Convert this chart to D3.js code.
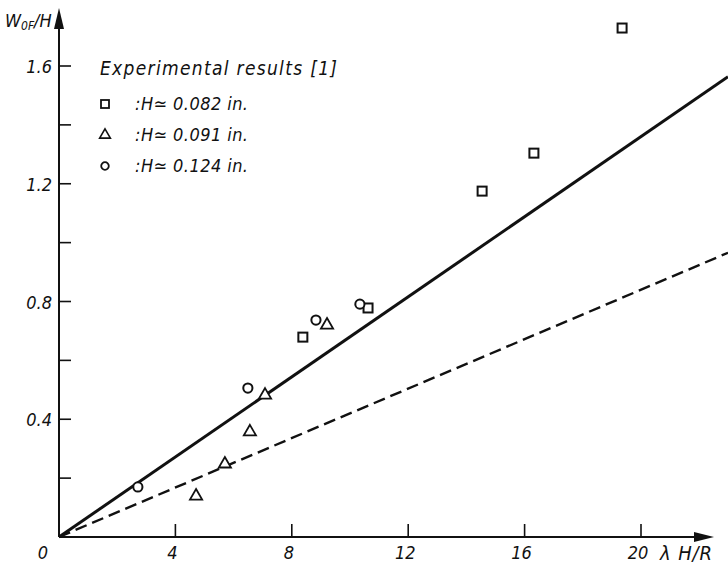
<!DOCTYPE html>
<html>
<head>
<meta charset="utf-8">
<script src="https://cdn.jsdelivr.net/npm/d3@7"></script>
<style>
  body { margin: 0; background: #fff; }
  svg text { font-family: "DejaVu Sans Condensed", "Liberation Sans Narrow", Roboto, sans-serif; font-style: italic; fill: #111; }
</style>
</head>
<body>
<svg width="728" height="566"></svg>
<script>
// experimental points, one array per specimen height
var squares_x = [8.38, 10.62, 14.54, 16.32, 19.35];
var squares_y = [0.679, 0.778, 1.175, 1.304, 1.729];

var triangles_x = [4.71, 5.70, 6.56, 7.08, 9.21];
var triangles_y = [0.139, 0.248, 0.357, 0.482, 0.720];

var circles_x = [2.71, 6.49, 8.83, 10.34];
var circles_y = [0.170, 0.506, 0.737, 0.791];

// theory lines through the origin (slopes)
var solid_slope = 0.068;
var dashed_slope = 0.042;

var x_ticks = [0, 4, 8, 12, 16, 20];
var y_ticks = [0.4, 0.8, 1.2, 1.6];
var y_minor = [0.2, 0.6, 1.0, 1.4];

var legend_title = "Experimental results [1]";
var legend_labels = [":H\u2243 0.082 in.", ":H\u2243 0.091 in.", ":H\u2243 0.124 in."];

var svg = d3.select("svg"),
    width = +svg.attr("width"),
    height = +svg.attr("height");

var x = d3.scaleLinear().domain([0, 20]).range([59, 641]);
var y = d3.scaleLinear().domain([0, 1.6]).range([537, 66]);

var ink = "#111";

// axes
var axes = svg.append("g");
axes.append("line")
    .attr("x1", x(0)).attr("y1", y(0))
    .attr("x2", 700).attr("y2", y(0))
    .attr("stroke", ink).attr("stroke-width", 2);
axes.append("path")
    .attr("d", "M694," + (y(0) - 5) + "L714," + y(0) + "L694," + (y(0) + 5) + "Z")
    .attr("fill", ink);
axes.append("line")
    .attr("x1", x(0)).attr("y1", y(0))
    .attr("x2", x(0)).attr("y2", 24)
    .attr("stroke", ink).attr("stroke-width", 2);
axes.append("path")
    .attr("d", "M" + (x(0) - 5) + ",29L" + x(0) + ",8L" + (x(0) + 5) + ",29Z")
    .attr("fill", ink);

// x ticks point up from the axis
axes.selectAll(".xt")
    .data(x_ticks.filter(function(d) { return d > 0; }))
    .enter().append("line")
    .attr("x1", function(d) { return x(d); })
    .attr("x2", function(d) { return x(d); })
    .attr("y1", y(0)).attr("y2", y(0) - 13)
    .attr("stroke", ink).attr("stroke-width", 1.6);
axes.selectAll(".xl")
    .data(x_ticks)
    .enter().append("text")
    .attr("x", function(d) { return d === 0 ? x(d) - 16 : x(d) - 3; })
    .attr("y", 559)
    .attr("text-anchor", "middle")
    .attr("font-size", 18)
    .text(function(d) { return d; });
axes.append("text")
    .attr("x", 660).attr("y", 560)
    .attr("font-size", 20)
    .attr("textLength", 52).attr("lengthAdjust", "spacing")
    .text("\u03bb H/R");

// y ticks point right from the axis
axes.selectAll(".yt")
    .data(y_ticks.concat(y_minor))
    .enter().append("line")
    .attr("x1", x(0)).attr("x2", x(0) + 12)
    .attr("y1", function(d) { return y(d); })
    .attr("y2", function(d) { return y(d); })
    .attr("stroke", ink).attr("stroke-width", 1.6);
axes.selectAll(".yl")
    .data(y_ticks)
    .enter().append("text")
    .attr("x", 52)
    .attr("y", function(d) { return y(d) + 7; })
    .attr("text-anchor", "end")
    .attr("font-size", 18)
    .text(function(d) { return d; });

var ylab = axes.append("text").attr("x", 5).attr("y", 27).attr("font-size", 18);
ylab.append("tspan").text("W");
ylab.append("tspan").attr("font-size", 12).attr("dy", 3).text("0F");
ylab.append("tspan").attr("dy", -3).text("/H");

// theory lines, run to the right edge of the picture
var x_end = x.invert(width);
svg.append("line")
    .attr("x1", x(0)).attr("y1", y(0))
    .attr("x2", x(x_end)).attr("y2", y(solid_slope * x_end))
    .attr("stroke", ink).attr("stroke-width", 3);
svg.append("line")
    .attr("x1", x(0)).attr("y1", y(0))
    .attr("x2", x(x_end)).attr("y2", y(dashed_slope * x_end))
    .attr("stroke", ink).attr("stroke-width", 2.4)
    .attr("stroke-dasharray", "12,6");

// markers
var pts = svg.append("g").attr("fill", "#fff").attr("stroke", ink).attr("stroke-width", 2);

pts.selectAll(".sq")
    .data(d3.range(squares_x.length))
    .enter().append("rect")
    .attr("x", function(i) { return x(squares_x[i]) - 4.5; })
    .attr("y", function(i) { return y(squares_y[i]) - 4.5; })
    .attr("width", 9).attr("height", 9);

var tri = d3.symbol().type(d3.symbolTriangle).size(64);
pts.selectAll(".tr")
    .data(d3.range(triangles_x.length))
    .enter().append("path")
    .attr("d", tri)
    .attr("stroke-width", 1.8)
    .attr("transform", function(i) { return "translate(" + x(triangles_x[i]) + "," + y(triangles_y[i]) + ")"; });

pts.selectAll(".ci")
    .data(d3.range(circles_x.length))
    .enter().append("circle")
    .attr("cx", function(i) { return x(circles_x[i]); })
    .attr("cy", function(i) { return y(circles_y[i]); })
    .attr("r", 4.6);

// legend
var legend = svg.append("g");
legend.append("text")
    .attr("x", 100).attr("y", 75)
    .attr("font-size", 19)
    .attr("textLength", 237).attr("lengthAdjust", "spacing")
    .text(legend_title);

var rows = legend.selectAll(".row")
    .data(legend_labels)
    .enter().append("g")
    .attr("transform", function(d, i) { return "translate(105," + (104 + i * 31) + ")"; });
rows.append("text")
    .attr("x", 30).attr("y", 6)
    .attr("font-size", 18)
    .attr("textLength", 113).attr("lengthAdjust", "spacing")
    .text(function(d) { return d; });
rows.filter(function(d, i) { return i === 0; }).append("rect")
    .attr("x", -4).attr("y", -4).attr("width", 8).attr("height", 8)
    .attr("fill", "#fff").attr("stroke", ink).attr("stroke-width", 1.8);
rows.filter(function(d, i) { return i === 1; }).append("path")
    .attr("d", d3.symbol().type(d3.symbolTriangle).size(50))
    .attr("fill", "#fff").attr("stroke", ink).attr("stroke-width", 1.6);
rows.filter(function(d, i) { return i === 2; }).append("circle")
    .attr("r", 3.8)
    .attr("fill", "#fff").attr("stroke", ink).attr("stroke-width", 1.8);
</script>
</body>
</html>
